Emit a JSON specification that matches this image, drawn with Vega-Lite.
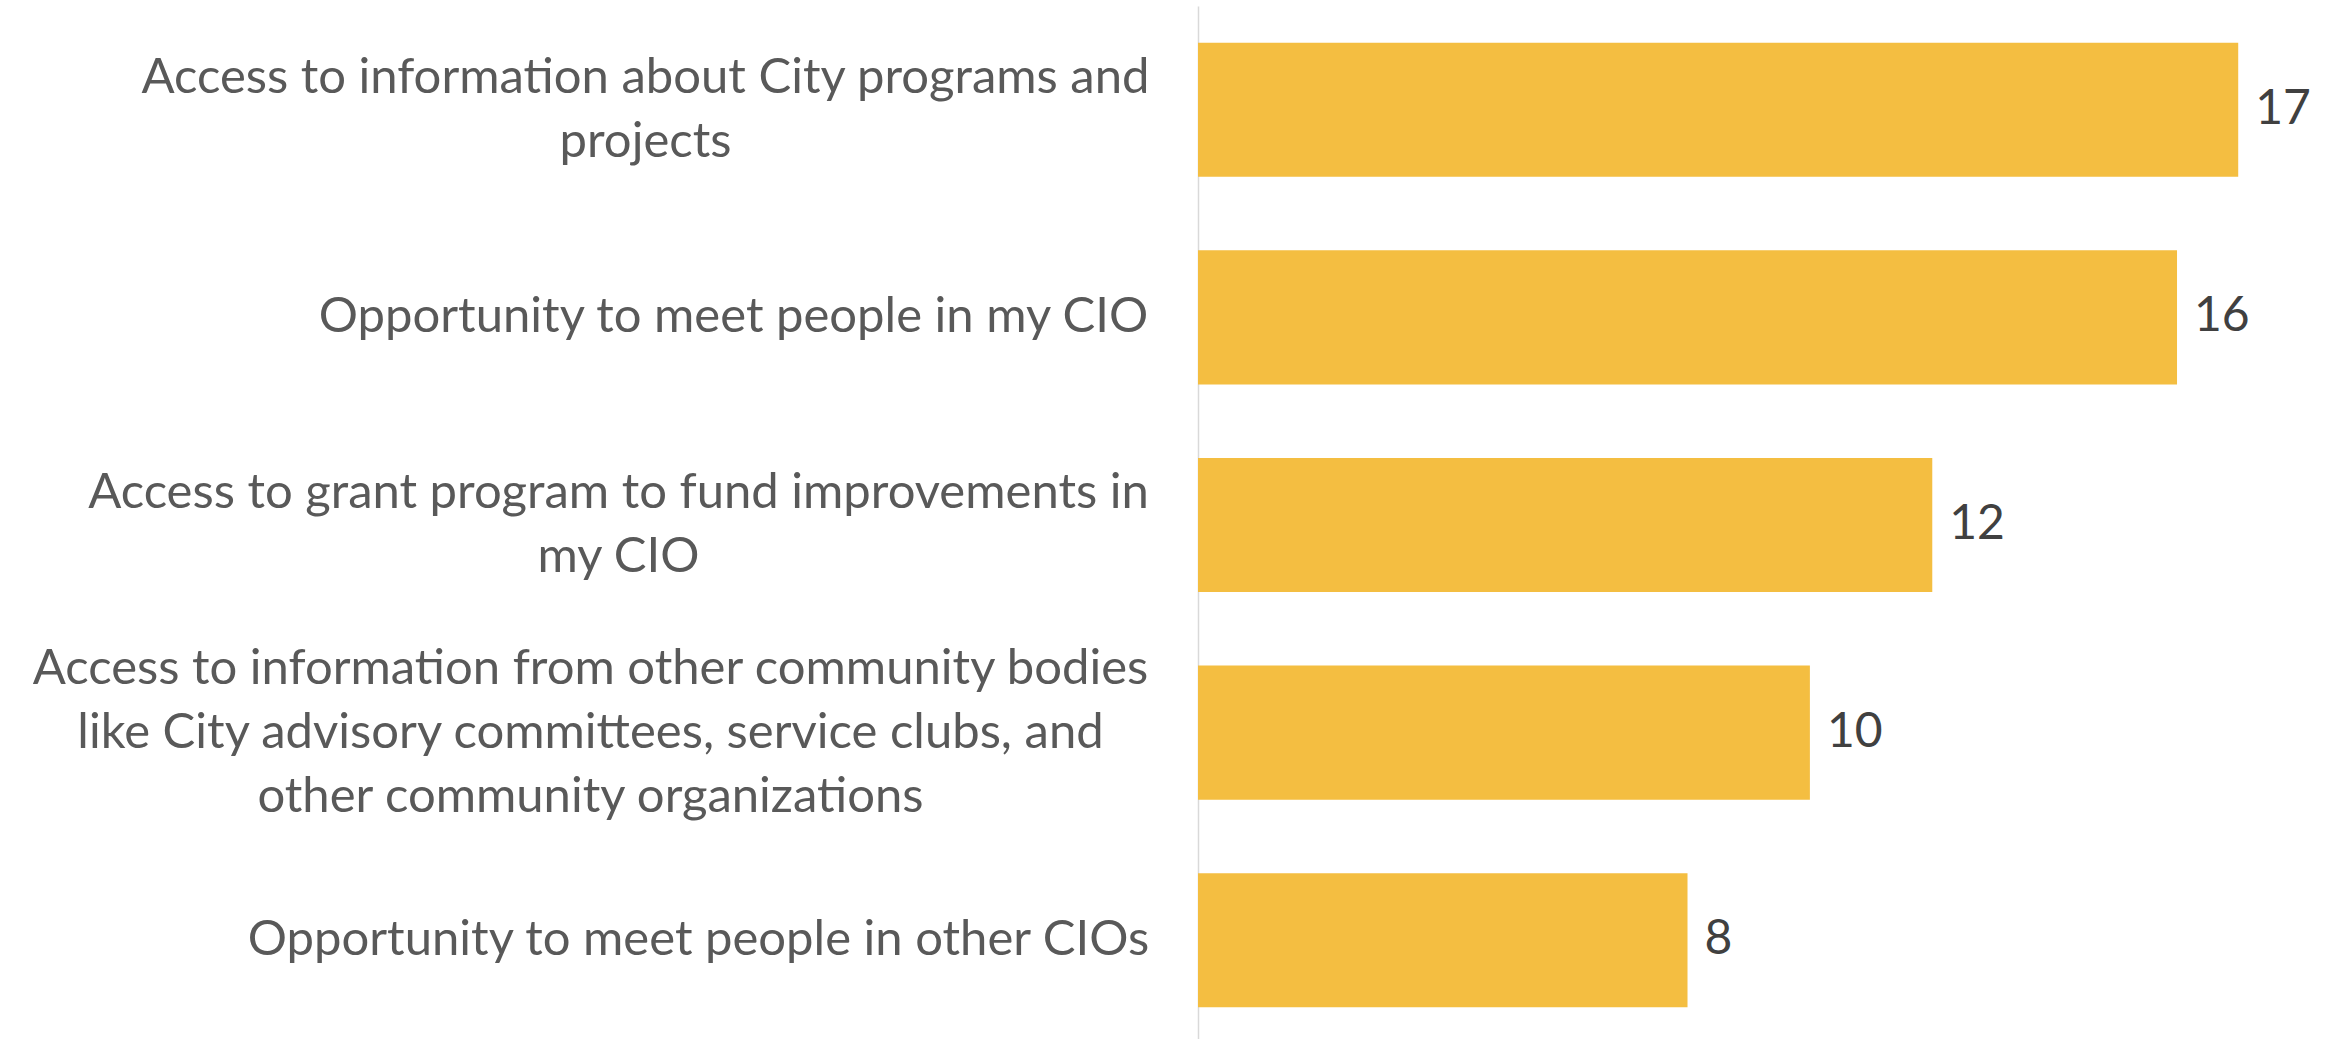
{
  "$schema": "https://vega.github.io/schema/vega-lite/v6.json",
  "width": 1132,
  "height": 1038,
  "autosize": {"type": "none"},
  "padding": {"left": 1198, "top": 6, "right": 0, "bottom": 0},
  "background": "white",
  "config": {"view": {"stroke": null}, "font": "Lato"},
  "data": {"values": [
    {"item": "Access to information about City programs and|projects", "count": 17},
    {"item": "Opportunity to meet people in my CIO", "count": 16},
    {"item": "Access to grant program to fund improvements in|my CIO", "count": 12},
    {"item": "Access to information from other community bodies|like City advisory committees, service clubs, and|other community organizations", "count": 10},
    {"item": "Opportunity to meet people in other CIOs", "count": 8}
  ]},
  "encoding": {
    "y": {"field": "item", "type": "nominal", "sort": null,
      "scale": {"paddingInner": 0.354, "paddingOuter": 0.177},
      "axis": {"title": null, "ticks": false, "domain": true, "domainColor": "#D9D9D9", "domainWidth": 1.5,
        "labelExpr": "split(datum.label, '|')", "labelFontSize": 49, "labelColor": "#595959",
        "labelLimit": 1300, "labelLineHeight": 64, "labelFont": "Lato",
        "labelAlign": "center",
        "labelOffset": {"expr": "-(length(split(datum.value,'|'))-1)*32"},
        "labelPadding": {"expr": "indexof(datum.value,'City programs')>=0 ? 553 : indexof(datum.value,'in my CIO')>=0 ? 465 : indexof(datum.value,'grant program')>=0 ? 580 : indexof(datum.value,'community bodies')>=0 ? 608 : 500"}
      }},
    "x": {"field": "count", "type": "quantitative", "scale": {"domain": [0, 18.5]}, "axis": null}
  },
  "layer": [
    {"mark": {"type": "bar", "color": "#F4BE41"}},
    {"mark": {"type": "text", "align": "left", "baseline": "middle", "dx": 17, "fontSize": 48, "color": "#404040", "font": "Lato"},
     "encoding": {"text": {"field": "count", "type": "quantitative"}}}
  ]
}
